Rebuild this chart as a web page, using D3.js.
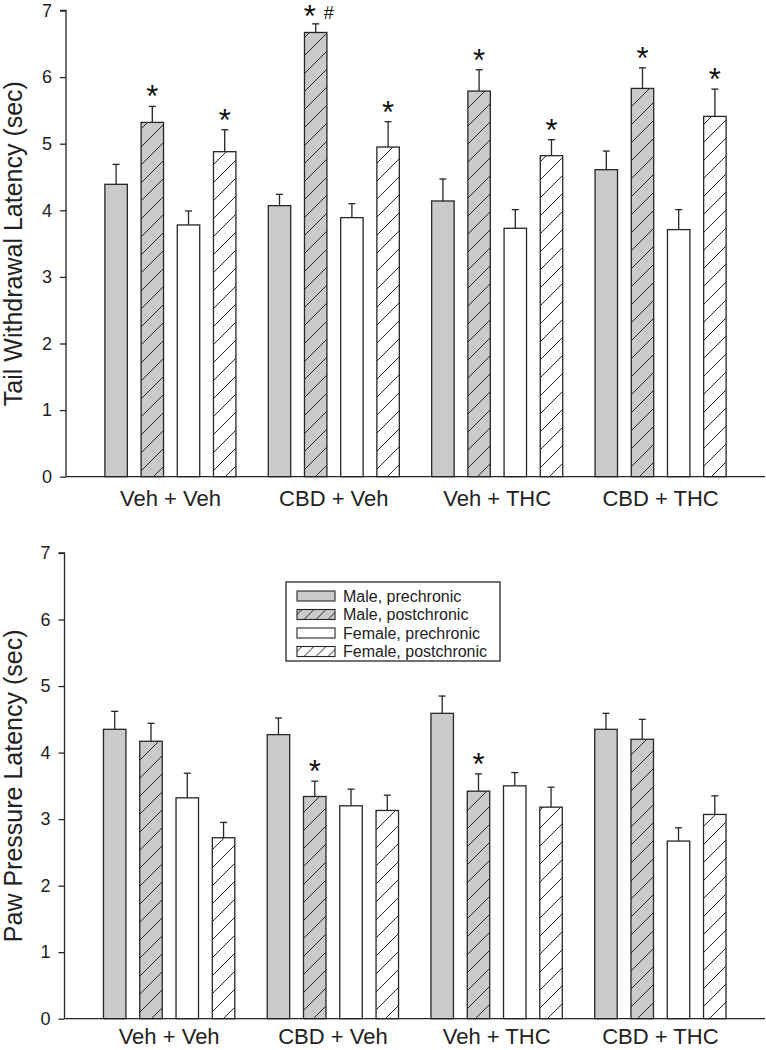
<!DOCTYPE html>
<html>
<head>
<meta charset="utf-8">
<script src="https://cdn.jsdelivr.net/npm/d3@7"></script>
<style>
  body { margin: 0; background: #fff; }
  svg { display: block; font-family: 'Liberation Sans', Arial, sans-serif; }
</style>
</head>
<body>
<svg id="chart" width="766" height="1050"></svg>
<script>
const groups = ['Veh + Veh', 'CBD + Veh', 'Veh + THC', 'CBD + THC'];
const series = ['Male, prechronic', 'Male, postchronic', 'Female, prechronic', 'Female, postchronic'];
const yTicks = [0, 1, 2, 3, 4, 5, 6, 7];

// tail withdrawal, one row per group, one value per series
const tailMeans = [
  [4.39, 5.32, 3.78, 4.88],
  [4.07, 6.67, 3.89, 4.95],
  [4.14, 5.79, 3.73, 4.82],
  [4.61, 5.83, 3.71, 5.41],
];
const tailErrors = [
  [0.30, 0.24, 0.21, 0.33],
  [0.17, 0.13, 0.21, 0.38],
  [0.33, 0.32, 0.28, 0.24],
  [0.28, 0.31, 0.30, 0.41],
];
const tailMarks = [
  ['', '*', '', '*'],
  ['', '*#', '', '*'],
  ['', '*', '', '*'],
  ['', '*', '', '*'],
];

// paw pressure
const pawMeans = [
  [4.35, 4.17, 3.32, 2.72],
  [4.27, 3.34, 3.20, 3.13],
  [4.59, 3.42, 3.50, 3.18],
  [4.35, 4.20, 2.67, 3.07],
];
const pawErrors = [
  [0.27, 0.27, 0.37, 0.23],
  [0.25, 0.23, 0.25, 0.23],
  [0.26, 0.26, 0.20, 0.30],
  [0.24, 0.30, 0.20, 0.28],
];
const pawMarks = [
  ['', '', '', ''],
  ['', '*', '', ''],
  ['', '*', '', ''],
  ['', '', '', ''],
];

const svg = d3.select('#chart');
const ink = '#262626';
const gray = '#c9cacc';
const fills = [gray, gray, '#fff', '#fff'];
const hatched = [false, true, false, true];

const defs = svg.append('defs');
function addHatch(id, bg, size) {
  const p = defs.append('pattern')
    .attr('id', id)
    .attr('patternUnits', 'userSpaceOnUse')
    .attr('width', size).attr('height', size);
  p.append('rect').attr('width', size).attr('height', size).attr('fill', bg);
  p.append('path')
    .attr('d', `M-2,2 L2,-2 M0,${size} L${size},0 M${size - 2},${size + 2} L${size + 2},${size - 2}`)
    .attr('stroke', ink).attr('stroke-width', 1);
}
addHatch('hatch-gray', gray, 18);
addHatch('hatch-white', '#fff', 18);
addHatch('lg-hatch-gray', gray, 12);
addHatch('lg-hatch-white', '#fff', 12);

const fillFor = (i, prefix = '') => (hatched[i]
  ? `url(#${prefix}${fills[i] === gray ? 'hatch-gray' : 'hatch-white'})`
  : fills[i]);

function drawPanel(cfg) {
  const { left, right, top, bottom, means, errors, marks, title, labelPad } = cfg;
  const g = svg.append('g');

  const y = d3.scaleLinear().domain([0, 7]).range([bottom, top]);
  const x0 = d3.scaleBand().domain(groups).range([left, right])
    .paddingInner(0.198).paddingOuter(0.238);
  const x1 = d3.scaleBand().domain(series).range([0, x0.bandwidth()])
    .paddingInner(0.38).paddingOuter(0);

  const rows = [];
  groups.forEach((grp, gi) => {
    series.forEach((s, si) => {
      rows.push({ grp, s, si, v: means[gi][si], e: errors[gi][si], mark: marks[gi][si] });
    });
  });

  const cx = (d) => x0(d.grp) + x1(d.s) + x1.bandwidth() / 2;

  // error bars (up only)
  const eb = g.append('g').attr('stroke', ink).attr('stroke-width', 1.3);
  eb.selectAll('line.stem').data(rows).join('line')
    .attr('class', 'stem')
    .attr('x1', cx).attr('x2', cx)
    .attr('y1', (d) => y(d.v)).attr('y2', (d) => y(d.v + d.e));
  eb.selectAll('line.cap').data(rows).join('line')
    .attr('class', 'cap')
    .attr('x1', (d) => cx(d) - 3.5).attr('x2', (d) => cx(d) + 3.5)
    .attr('y1', (d) => y(d.v + d.e)).attr('y2', (d) => y(d.v + d.e));

  g.append('g').selectAll('rect').data(rows).join('rect')
    .attr('x', (d) => x0(d.grp) + x1(d.s))
    .attr('y', (d) => y(d.v))
    .attr('width', x1.bandwidth())
    .attr('height', (d) => y(0) - y(d.v))
    .attr('fill', (d) => fillFor(d.si))
    .attr('stroke', ink)
    .attr('stroke-width', 1.3);

  // significance marks
  const mk = g.append('g').attr('fill', '#111');
  rows.filter((d) => d.mark).forEach((d) => {
    const base = y(d.v + d.e) + 1;
    if (d.mark.includes('#')) {
      mk.append('text').attr('x', cx(d) - 6).attr('y', base + 2)
        .attr('text-anchor', 'middle').attr('font-size', 31).text('*');
      mk.append('text').attr('x', cx(d) + 13).attr('y', base - 6)
        .attr('text-anchor', 'middle').attr('font-size', 18).text('#');
    } else {
      mk.append('text').attr('x', cx(d)).attr('y', base)
        .attr('text-anchor', 'middle').attr('font-size', 31).text('*');
    }
  });

  // y axis
  const yAxis = g.append('g')
    .attr('transform', `translate(${left},0)`)
    .call(d3.axisLeft(y).tickValues(yTicks).tickSize(6).tickPadding(8).tickFormat(d3.format('d')));
  yAxis.select('.domain').attr('stroke', ink).attr('stroke-width', 1.3).attr('d', `M-6,${top}H0V${bottom}`);
  yAxis.selectAll('.tick line').attr('stroke', ink).attr('stroke-width', 1.3);
  yAxis.selectAll('.tick text').attr('font-size', 18).attr('fill', '#222')
    .attr('font-family', "'Liberation Sans', Arial, sans-serif");

  // x axis
  const xAxis = g.append('g')
    .attr('transform', `translate(0,${bottom})`)
    .call(d3.axisBottom(x0).tickSize(0).tickPadding(labelPad));
  xAxis.select('.domain').attr('stroke', ink).attr('stroke-width', 1.3).attr('d', `M${left},0H${right}`);
  xAxis.selectAll('.tick text').attr('font-size', 22).attr('fill', '#222')
    .attr('dy', '0.71em')
    .attr('font-family', "'Liberation Sans', Arial, sans-serif");

  g.append('text')
    .attr('transform', `translate(22,${(top + bottom) / 2}) rotate(-90)`)
    .attr('text-anchor', 'middle')
    .attr('font-size', 25)
    .attr('fill', '#222')
    .text(title);
}

drawPanel({
  left: 66, right: 765, top: 10.5, bottom: 476.7, labelPad: 14,
  means: tailMeans, errors: tailErrors, marks: tailMarks,
  title: 'Tail Withdrawal Latency (sec)',
});
drawPanel({
  left: 64.5, right: 765, top: 553, bottom: 1018.7, labelPad: 10,
  means: pawMeans, errors: pawErrors, marks: pawMarks,
  title: 'Paw Pressure Latency (sec)',
});

// legend
const legend = svg.append('g').attr('transform', 'translate(286,582)');
legend.append('rect')
  .attr('width', 214).attr('height', 79)
  .attr('fill', '#fff').attr('stroke', ink).attr('stroke-width', 1.3);
const item = legend.selectAll('g.item').data(series).join('g')
  .attr('class', 'item')
  .attr('transform', (d, i) => `translate(11,${14 + i * 18.5})`);
item.append('rect')
  .attr('y', -5).attr('width', 38).attr('height', 10)
  .attr('fill', (d, i) => fillFor(i, 'lg-'))
  .attr('stroke', ink).attr('stroke-width', 1.1);
item.append('text')
  .attr('x', 46).attr('dy', '0.35em')
  .attr('font-size', 16).attr('fill', '#222')
  .text((d) => d);
</script>
</body>
</html>
